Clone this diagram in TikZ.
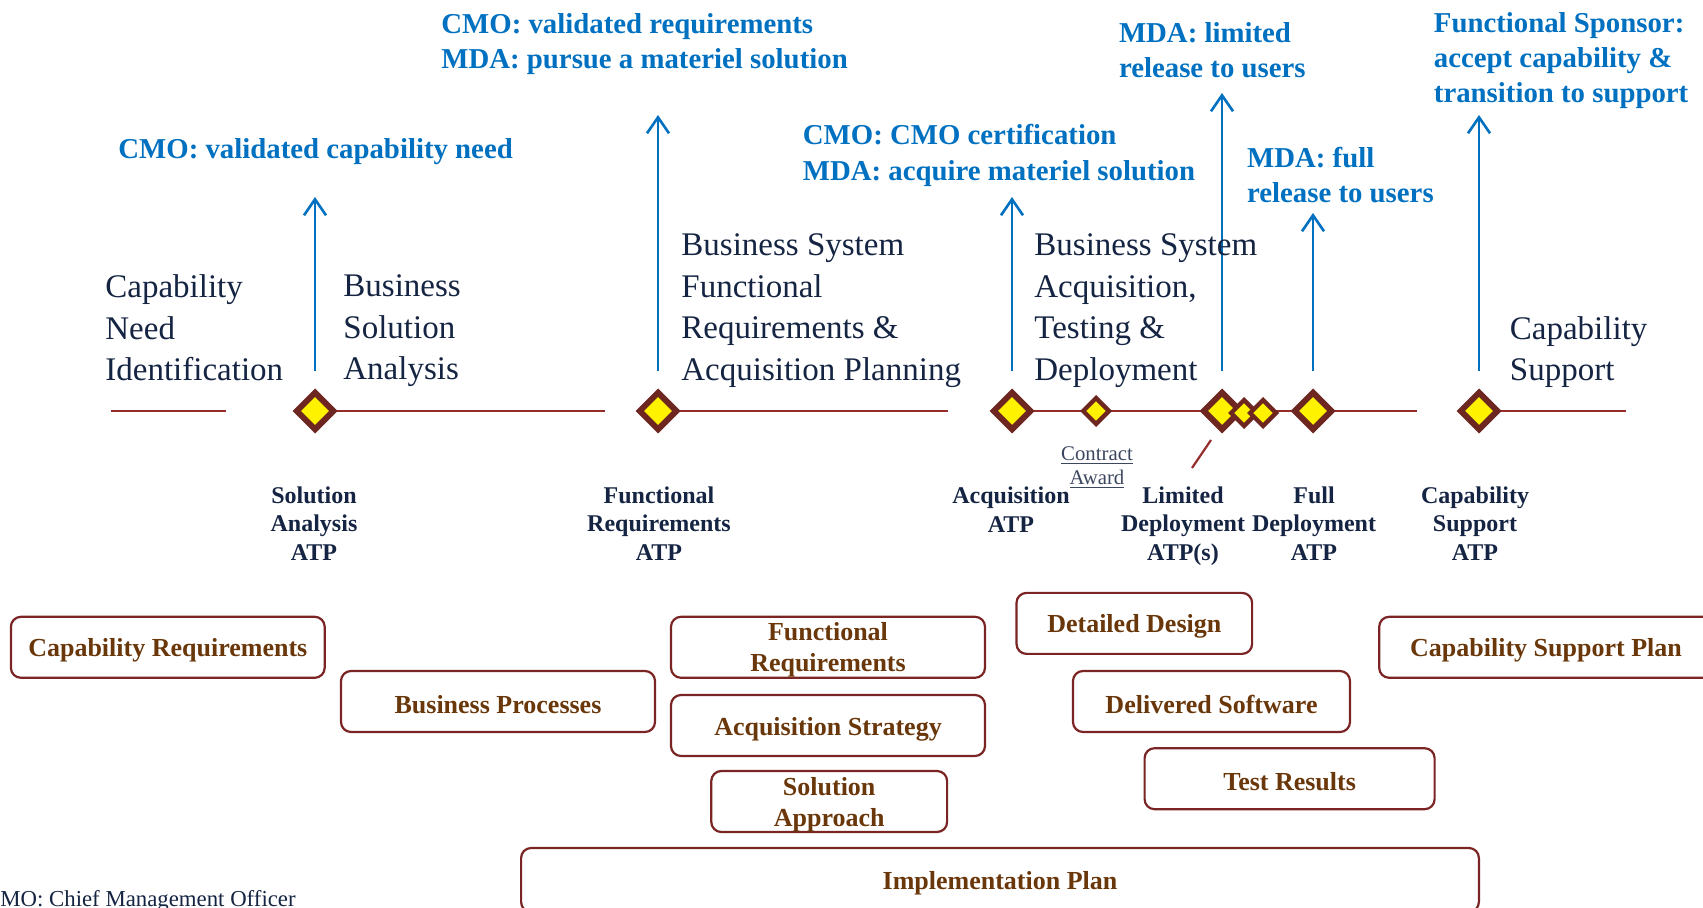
\documentclass[tikz,border=0pt]{standalone}
\usepackage{fontspec}
\setmainfont{Liberation Serif}
\usetikzlibrary{shapes.geometric,arrows.meta}
\definecolor{navy}{RGB}{20,36,66}
\definecolor{mblue}{RGB}{0,112,192}
\definecolor{dkbrown}{RGB}{110,38,32}
\definecolor{linered}{RGB}{150,45,45}
\definecolor{boxred}{RGB}{122,36,36}
\definecolor{boxbrown}{RGB}{105,55,10}
\definecolor{slate}{RGB}{60,70,95}
\tikzset{
  mile/.style={diamond,draw=dkbrown,fill=yellow,line width=3pt,inner sep=0pt,minimum width=19.5pt,minimum height=19.5pt},
  smile/.style={diamond,draw=dkbrown,fill=yellow,line width=2.2pt,inner sep=0pt,minimum width=13.8pt,minimum height=13.8pt},
  tl/.style={draw=linered,line width=1.1pt},
  arr/.style={draw=mblue,line width=1.3pt,-{Straight Barb[length=8pt,width=11pt]}},
  phase/.style={font=\fontsize{16.5}{20.8}\selectfont,text=navy,align=left,anchor=west,inner sep=0pt},
  lab/.style={font=\bfseries\fontsize{14.4}{17.6}\selectfont,text=mblue,align=left,anchor=west,inner sep=0pt},
  ms/.style={font=\bfseries\fontsize{12}{14.3}\selectfont,text=navy,align=center,inner sep=0pt},
  box/.style={draw=boxred,line width=1.1pt,rounded corners=5pt,font=\bfseries\fontsize{13}{15.5}\selectfont,text=boxbrown,align=center,inner sep=0pt,minimum height=30.5pt},
  box1/.style={box,execute at begin node={\rule{0pt}{12.4pt}}}
}
\newcommand{\liftstrut}{\rule{0pt}{11.8pt}}
\begin{document}
\begin{tikzpicture}[x=0.5pt,y=-0.5pt]
\useasboundingbox (0,0) rectangle (1703,908);
% timeline coordinates
\coordinate (d1) at (315,411);
\coordinate (d2) at (658,411);
\coordinate (d3) at (1012,411);
\coordinate (d4) at (1096,411);
\coordinate (d5) at (1222,411);
\coordinate (d6) at (1244,413);
\coordinate (d7) at (1263,413);
\coordinate (d8) at (1313,411);
\coordinate (d9) at (1479,411);
\coordinate (l0a) at (111,411);
\coordinate (l0b) at (226,411);
\coordinate (l1) at (605,411);
\coordinate (l2) at (948,411);
\coordinate (l8) at (1417,411);
\coordinate (l9) at (1626,411);
\draw[tl] (l0a) -- (l0b);
\draw[tl] (d1) -- (l1);
\draw[tl] (d2) -- (l2);
\draw[tl] (d3) -- (d4) -- (d5) -- (d8) -- (l8);
\draw[tl] (d9) -- (l9);
% leader line
\coordinate (ll1) at (1211,440);
\coordinate (ll2) at (1192,468);
\draw[tl] (ll1) -- (ll2);
% diamonds
\node[mile] (m1) at (d1) {};
\node[mile] (m2) at (d2) {};
\node[mile] (m3) at (d3) {};
\node[smile] (m4) at (d4) {};
\node[mile] (m5) at (d5) {};
\node[smile] (m6) at (d6) {};
\node[smile] (m7) at (d7) {};
\node[mile] (m8) at (d8) {};
\node[mile] (m9) at (d9) {};
% arrows
\coordinate (a1b) at (315,371); \coordinate (a1t) at (315,197);
\coordinate (a2b) at (658,371); \coordinate (a2t) at (658,115);
\coordinate (a3b) at (1012,371); \coordinate (a3t) at (1012,197);
\coordinate (a4b) at (1222,371); \coordinate (a4t) at (1222,93);
\coordinate (a5b) at (1313,371); \coordinate (a5t) at (1313,213);
\coordinate (a6b) at (1479,371); \coordinate (a6t) at (1479,115);
\draw[arr] (a1b) -- (a1t);
\draw[arr] (a2b) -- (a2t);
\draw[arr] (a3b) -- (a3t);
\draw[arr] (a4b) -- (a4t);
\draw[arr] (a5b) -- (a5t);
\draw[arr] (a6b) -- (a6t);
% blue labels
\node[lab] (b1) at (118,151.5) {CMO: validated capability need};
\node[lab] (b2) at (441,44.4) {CMO: validated requirements\\MDA: pursue a materiel solution};
\node[lab] (b3) at (802.5,155.5) {CMO: CMO certification\\MDA: acquire materiel solution};
\node[lab] (b4) at (1118.6,50.5) {MDA: limited\\release to users};
\node[lab] (b5) at (1246.7,175) {MDA: full\\release to users};
\node[lab] (b6) at (1433.5,60.5) {Functional Sponsor:\\accept capability \&\\transition to support};
% phase texts
\node[phase] (p1) at (105,328) {Capability\\Need\\Identification};
\node[phase] (p2) at (343,331) {Business\\Solution\\Analysis};
\node[phase] (p3) at (681,310.5) {Business System\\Functional\\Requirements \&\\Acquisition Planning};
\node[phase] (p4) at (1034,310.5) {Business System\\Acquisition,\\Testing \&\\Deployment};
\node[phase] (p5) at (1509.5,352) {Capability\\Support};
% milestone labels
\node[ms] (t1) at (314,523.5) {Solution\\Analysis\\ATP};
\node[ms] (t2) at (659,523.5) {Functional\\Requirements\\ATP};
\node[ms] (t3) at (1011,509.5) {Acquisition\\ATP};
\node[font=\fontsize{10.4}{12.2}\selectfont,text=slate,align=center,inner sep=0pt] (t4) at (1097,467.5) {\underline{Contract}\\\underline{Award}};
\node[ms] (t5) at (1183,526) {Limited\\Deployment\\ATP(s)};
\node[ms] (t6) at (1314,523.5) {Full\\Deployment\\ATP};
\node[ms] (t7) at (1475,523.5) {Capability\\Support\\ATP};
% boxes
\node[box1,minimum width=156.9pt] (x1) at (167.8,647.3) {Capability Requirements};
\node[box1,minimum width=157pt] (x2) at (498,701.5) {Business Processes};
\node[box,minimum width=157pt] (x3) at (828,647.3) {\liftstrut Functional\\Requirements};
\node[box1,minimum width=157pt] (x4) at (828,725.5) {Acquisition Strategy};
\node[box,minimum width=117.9pt] (x5) at (829.2,801.5) {\liftstrut Solution\\Approach};
\node[box1,minimum width=478.9pt,minimum height=32pt] (x6) at (1000,880) {Implementation Plan};
\node[box1,minimum width=117.8pt] (x7) at (1134.3,623.4) {Detailed Design};
\node[box1,minimum width=138.5pt] (x8) at (1211.5,701.5) {Delivered Software};
\node[box1,minimum width=145pt] (x9) at (1289.6,778.7) {Test Results};
\node[box1,minimum width=166.8pt] (x10) at (1546,647.3) {Capability Support Plan};
% footnote
\node[font=\fontsize{11.4}{13}\selectfont,text=navy,anchor=base west,inner sep=0pt] (fn) at (-15.2,906) {CMO: Chief Management Officer};
\end{tikzpicture}
\end{document}
